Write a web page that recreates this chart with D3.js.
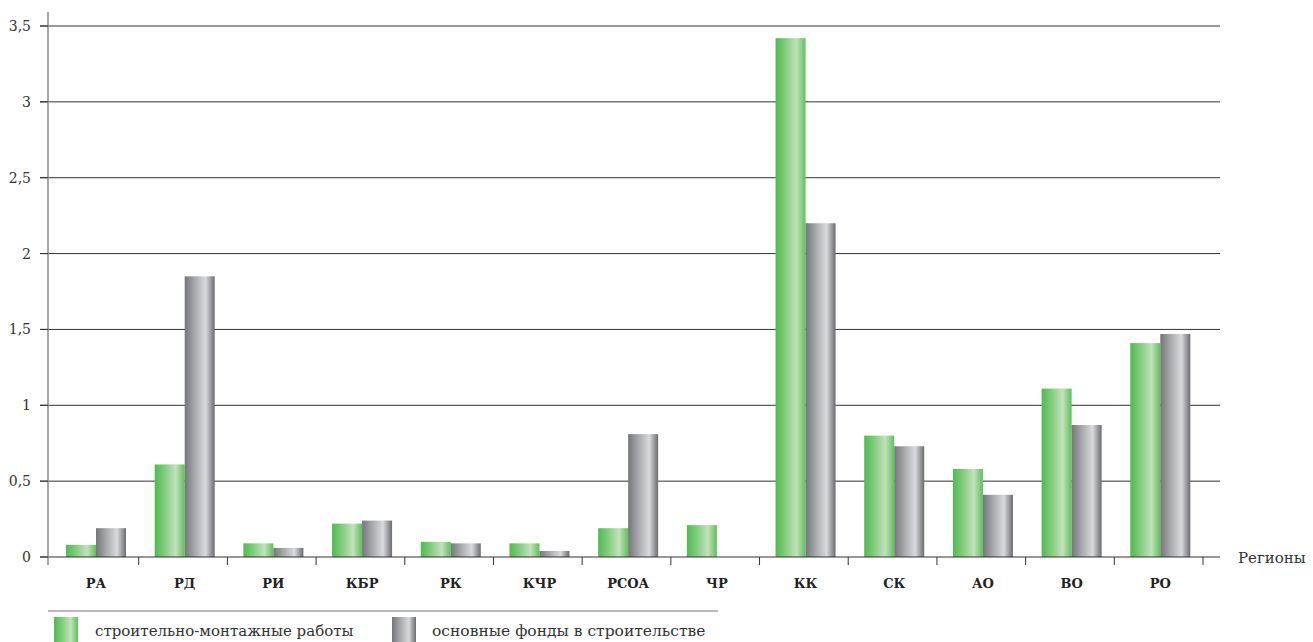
<!DOCTYPE html>
<html><head><meta charset="utf-8">
<script src="https://cdn.jsdelivr.net/npm/d3@7"></script>
<style>body{margin:0;background:#fff}svg{display:block}</style>
</head><body><svg id="c" width="1313" height="642"></svg>
<script>
const categories = ["РА","РД","РИ","КБР","РК","КЧР","РСОА","ЧР","КК","СК","АО","ВО","РО"];
const seriesNames = ["строительно-монтажные работы","основные фонды в строительстве"];
const smr = [0.08,0.61,0.09,0.22,0.10,0.09,0.19,0.21,3.42,0.80,0.58,1.11,1.41];
const ofs = [0.19,1.85,0.06,0.24,0.09,0.04,0.81,0,2.20,0.73,0.41,0.87,1.47];
const yTicks = [0,0.5,1,1.5,2,2.5,3,3.5];
const FONT = "DejaVu Serif";

const svg = d3.select("#c");
const defs = svg.append("defs");
function grad(id, stops){
  const g = defs.append("linearGradient").attr("id",id).attr("x1","0").attr("x2","1").attr("y1","0").attr("y2","0");
  stops.forEach(s=>g.append("stop").attr("offset",s[0]).attr("stop-color",s[1]));
}
grad("gG",[[0,"#4fbb4f"],[0.35,"#86cd80"],[0.7,"#c2e2bb"],[1,"#5fbf5c"]]);
grad("gS",[[0,"#75767a"],[0.35,"#a9aaae"],[0.7,"#d9dadd"],[1,"#6b6c70"]]);
const fills = ["url(#gG)","url(#gS)"];

const x = d3.scaleBand().domain(categories).range([50,1203]).paddingInner(0).paddingOuter(0);
const y = d3.scaleLinear().domain([0,3.5]).range([557,26]);
const bw = 30, off = 16;

svg.append("g").selectAll("line").data(yTicks.filter(d=>d>0)).join("line")
  .attr("x1",40).attr("x2",1220).attr("y1",d=>y(d)).attr("y2",d=>y(d))
  .attr("stroke","#333").attr("stroke-width",1);

svg.append("g").selectAll("text").data(yTicks).join("text")
  .attr("x",31).attr("y",d=>y(d)+5).attr("text-anchor","end")
  .style("font-family",FONT).attr("font-size",14).attr("fill","#333")
  .text(d=>String(d).replace(".",","));

const g = svg.append("g");
[smr,ofs].forEach((vals,si)=>{
  g.selectAll("rect.s"+si).data(vals).join("rect").attr("class","s"+si)
    .attr("x",(d,i)=>x(categories[i])+off+si*bw)
    .attr("width",bw)
    .attr("y",d=>y(d)).attr("height",d=>y(0)-y(d))
    .attr("fill",fills[si]);
});

svg.append("line").attr("x1",40).attr("x2",1220).attr("y1",y(0)).attr("y2",y(0)).attr("stroke","#333");
const bounds = categories.map(c=>x(c)).concat([x.range()[1]]);
svg.append("g").selectAll("line").data(bounds.slice(1)).join("line")
  .attr("x1",d=>d).attr("x2",d=>d).attr("y1",y(0)).attr("y2",y(0)+8).attr("stroke","#333");
svg.append("line").attr("x1",48).attr("x2",48).attr("y1",12).attr("y2",y(0)+8).attr("stroke","#8a8a8a").attr("stroke-width",1.5);
svg.append("g").selectAll("line").data(yTicks).join("line")
  .attr("x1",40).attr("x2",48).attr("y1",d=>y(d)).attr("y2",d=>y(d)).attr("stroke","#333");

svg.append("g").selectAll("text").data(categories).join("text")
  .attr("x",d=>x(d)+off+bw).attr("y",588).attr("text-anchor","middle")
  .style("font-family",FONT).attr("font-size",13).attr("font-weight","bold").attr("fill","#222").text(d=>d);

svg.append("text").attr("x",1238).attr("y",563).style("font-family",FONT).attr("font-size",15).attr("fill","#333").text("Регионы");

svg.append("line").attr("x1",48).attr("x2",718).attr("y1",611).attr("y2",611).attr("stroke","#777").attr("stroke-width",1.2);
const lx = [54,392], tx=[95,432], fs=[15,15.5];
seriesNames.forEach((n,i)=>{
  svg.append("rect").attr("x",lx[i]).attr("y",617).attr("width",24).attr("height",25).attr("fill",fills[i]);
  svg.append("text").attr("x",tx[i]).attr("y",636).style("font-family",FONT).attr("font-size",fs[i]).attr("fill","#333").text(n);
});
</script></body></html>
